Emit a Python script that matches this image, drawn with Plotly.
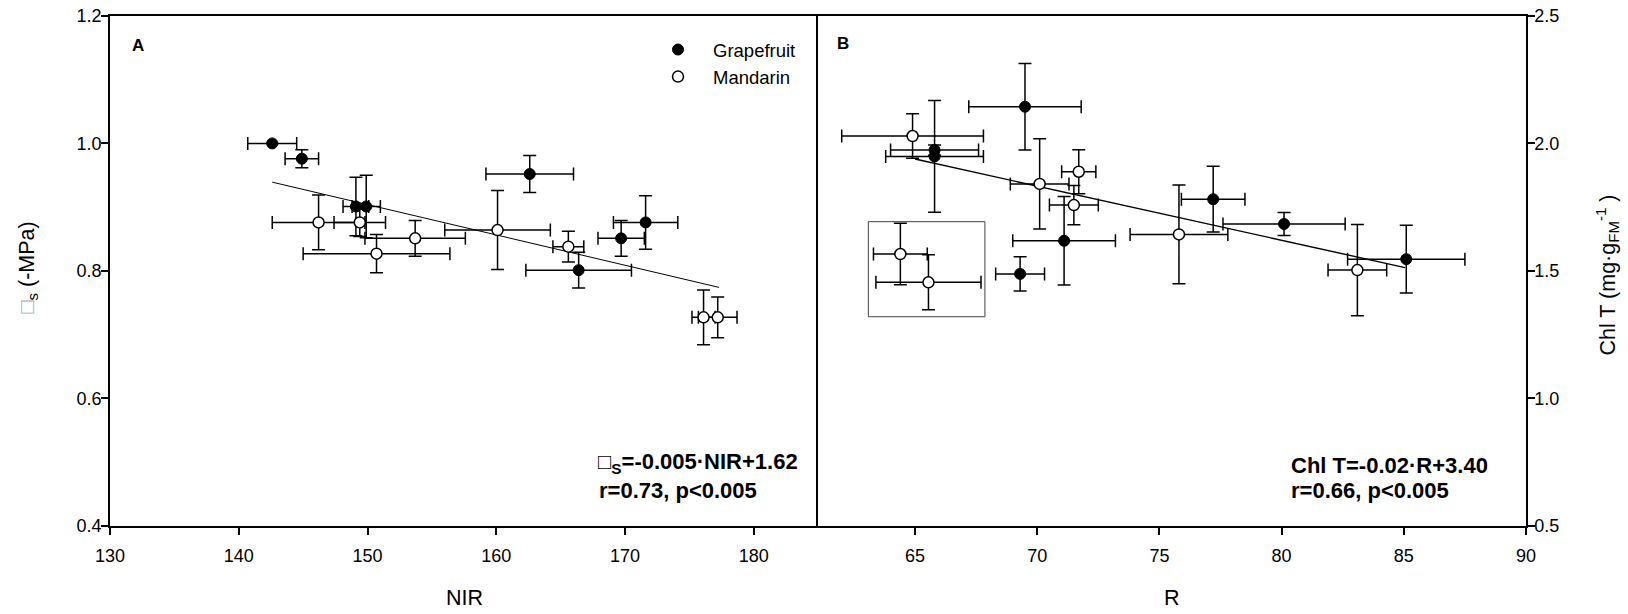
import plotly.graph_objects as go

# ---- Panel A: water potential vs NIR reflectance ----
gf_nir = [142.6, 144.9, 149.1, 149.9, 162.6, 166.4, 169.7, 171.6]
gf_psi = [1.000, 0.976, 0.901, 0.901, 0.952, 0.801, 0.851, 0.876]
gf_nir_err = [1.9, 1.3, 1.0, 1.1, 3.4, 4.1, 1.8, 2.5]
gf_psi_err = [None, 0.014, 0.046, 0.049, 0.029, 0.028, 0.028, 0.042]

md_nir = [146.2, 149.4, 150.7, 153.7, 160.1, 165.6, 176.1, 177.2]
md_psi = [0.876, 0.876, 0.827, 0.851, 0.864, 0.838, 0.727, 0.727]
md_nir_err = [3.6, 2.0, 5.7, 3.9, 4.1, 1.2, 0.9, 1.5]
md_psi_err = [0.043, 0.022, 0.030, 0.028, 0.062, 0.024, 0.043, 0.032]

# fitted line for panel A (slope, intercept, x span)
fit_a = (-0.00476, 1.618)
fit_a_x = [142.6, 177.3]

# ---- Panel B: total chlorophyll vs R reflectance ----
gf_r = [65.8, 65.8, 69.5, 71.1, 69.3, 77.2, 80.1, 85.1]
gf_chl = [1.974, 1.949, 2.144, 1.618, 1.488, 1.781, 1.684, 1.546]
gf_r_err = [1.8, 2.0, 2.3, 2.1, 1.0, 1.3, 2.5, 2.4]
gf_chl_err = [0.02, 0.219, 0.17, 0.174, 0.067, 0.129, 0.045, 0.133]

md_r = [64.9, 70.1, 71.7, 71.5, 64.4, 65.55, 75.8, 83.1]
md_chl = [2.029, 1.841, 1.889, 1.758, 1.566, 1.455, 1.643, 1.503]
md_r_err = [2.9, 1.2, 0.7, 1.0, 1.1, 2.15, 2.0, 1.2]
md_chl_err = [0.087, 0.177, 0.086, 0.077, 0.121, 0.108, 0.194, 0.179]

# fitted line for panel B
fit_b = (-0.02125, 3.32)
fit_b_x = [65.0, 85.05]

# frame around the two excluded mandarin points (R, Chl T)
excl_box = dict(x0=63.09, x1=67.86, y0=1.32, y1=1.693)

FONT = "Liberation Sans, Arial, sans-serif"
W, H = 1628, 614


def fx(p):
    return p / W


def fy(p):
    return 1 - p / H


def err(vals):
    return dict(type="data", array=vals, color="black", thickness=1.5, width=6.5, visible=True)


fig = go.Figure()

# regression lines (under the markers)
fig.add_trace(go.Scatter(
    x=fit_a_x, y=[fit_a[0] * v + fit_a[1] for v in fit_a_x],
    mode="lines", line=dict(color="black", width=1), showlegend=False,
    xaxis="x", yaxis="y"))
fig.add_trace(go.Scatter(
    x=fit_b_x, y=[fit_b[0] * v + fit_b[1] for v in fit_b_x],
    mode="lines", line=dict(color="black", width=1.4), showlegend=False,
    xaxis="x2", yaxis="y2"))

filled = dict(symbol="circle", size=11, color="black", line=dict(color="black", width=1))
opened = dict(symbol="circle", size=11, color="white", line=dict(color="black", width=1.5))

fig.add_trace(go.Scatter(
    x=gf_nir, y=gf_psi, mode="markers", name="Grapefruit", marker=filled,
    error_x=err(gf_nir_err), error_y=err(gf_psi_err), xaxis="x", yaxis="y"))
fig.add_trace(go.Scatter(
    x=md_nir, y=md_psi, mode="markers", name="Mandarin", marker=opened,
    error_x=err(md_nir_err), error_y=err(md_psi_err), xaxis="x", yaxis="y"))
fig.add_trace(go.Scatter(
    x=gf_r, y=gf_chl, mode="markers", name="Grapefruit", marker=filled, showlegend=False,
    error_x=err(gf_r_err), error_y=err(gf_chl_err), xaxis="x2", yaxis="y2"))
fig.add_trace(go.Scatter(
    x=md_r, y=md_chl, mode="markers", name="Mandarin", marker=opened, showlegend=False,
    error_x=err(md_r_err), error_y=err(md_chl_err), xaxis="x2", yaxis="y2"))

axis_common = dict(
    showline=True, linecolor="black", linewidth=1.5, ticks="outside",
    tickcolor="black", tickwidth=1.5, showgrid=False, zeroline=False,
    automargin=False,
    tickfont=dict(family=FONT, size=18, color="black"),
)
ydom = [fy(525.7), fy(16)]

fig.update_layout(
    width=W, height=H,
    margin=dict(l=0, r=0, t=0, b=0, pad=0, autoexpand=False),
    paper_bgcolor="white", plot_bgcolor="white",
    font=dict(family=FONT, color="black"),
    xaxis=dict(domain=[fx(110), fx(817.5)], range=[130, 184.95],
               tickvals=[130, 140, 150, 160, 170, 180], ticklen=8,
               ticklabelstandoff=5,
               mirror=True, anchor="y", **axis_common),
    yaxis=dict(domain=ydom, range=[0.4, 1.2], tickvals=[0.4, 0.6, 0.8, 1.0, 1.2],
               tickformat=".1f", ticklen=7, ticklabelstandoff=-4,
               anchor="x", **axis_common),
    xaxis2=dict(domain=[fx(817.5), fx(1526)], range=[61.01, 90],
                tickvals=[65, 70, 75, 80, 85, 90], ticklen=8,
                ticklabelstandoff=5,
                mirror=True, anchor="y2", **axis_common),
    yaxis2=dict(domain=ydom, range=[0.5, 2.5], tickvals=[0.5, 1.0, 1.5, 2.0, 2.5],
                tickformat=".1f", ticklen=7, ticklabelstandoff=-4,
                side="right", mirror=True, anchor="x2", **axis_common),
    legend=dict(x=fx(643), y=fy(31), xanchor="left", yanchor="top",
                bgcolor="rgba(0,0,0,0)", itemwidth=60,
                font=dict(family=FONT, size=18.5, color="black")),
    shapes=[dict(type="rect", xref="x2", yref="y2", line=dict(color="#444", width=1),
                 **excl_box)],
)

ann = []
title_font = dict(family=FONT, size=21.5, color="black")
bold_font = dict(family=FONT, size=22, color="black")
ann.append(dict(x=fx(464), y=fy(598), text="NIR", font=title_font))
ann.append(dict(x=fx(1171.5), y=fy(598), text="R", font=title_font))
ann.append(dict(x=fx(27.5), y=fy(268), textangle=-90, font=title_font,
                text='<span style="color:#aaa">□</span><sub>s</sub> (-MPa)'))
ann.append(dict(x=fx(1606.5), y=fy(275), textangle=-90, font=title_font,
                text="Chl T (mg·g<sub>FM</sub><sup>-1</sup> )"))
ann.append(dict(x=fx(138), y=fy(45.7), text="<b>A</b>", font=dict(family=FONT, size=17, color="black")))
ann.append(dict(x=fx(842.7), y=fy(43.5), text="<b>B</b>", font=dict(family=FONT, size=17, color="black")))
ann.append(dict(x=fx(596), y=fy(463), xanchor="left", font=bold_font,
                text="<b>□<sub>S</sub>=-0.005·NIR+1.62</b>"))
ann.append(dict(x=fx(596.5), y=fy(490), xanchor="left", font=bold_font,
                text="<b>r=0.73, p<0.005</b>"))
ann.append(dict(x=fx(1288.5), y=fy(465), xanchor="left", font=bold_font,
                text="<b>Chl T=-0.02·R+3.40</b>"))
ann.append(dict(x=fx(1288.5), y=fy(490), xanchor="left", font=bold_font,
                text="<b>r=0.66, p<0.005</b>"))
for a in ann:
    a.setdefault("xref", "paper")
    a.setdefault("yref", "paper")
    a.setdefault("showarrow", False)
    a.setdefault("xanchor", "center")
    a.setdefault("yanchor", "middle")
fig.update_layout(annotations=ann)

fig.write_html("out.html")
